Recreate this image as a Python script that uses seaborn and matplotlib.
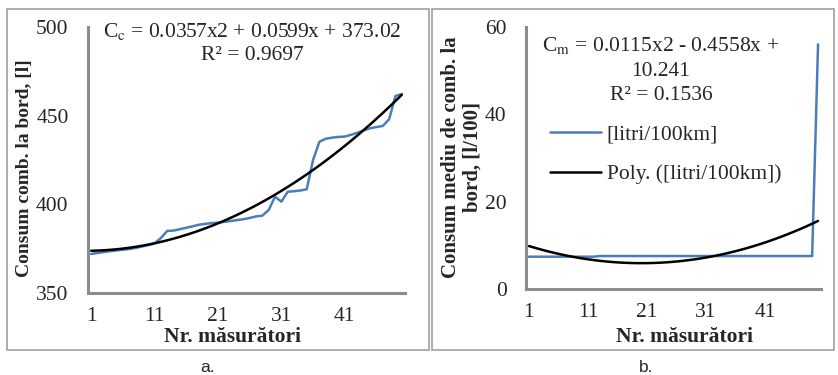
import numpy as np
import pandas as pd
import matplotlib
matplotlib.use("Agg")
import matplotlib.pyplot as plt
from matplotlib.patches import Rectangle
import seaborn as sns

# ---- data ----
masuratori = list(range(1, 51))
consum_bord = [372.0, 372.6, 373.1, 373.6, 374.0, 374.4, 374.8, 375.4, 376.2, 377.0,
               378.0, 381.0, 385.0, 385.2, 386.0, 386.8, 387.6, 388.5, 389.0, 389.4,
               389.7, 390.1, 390.6, 391.1, 391.6, 392.3, 393.2, 393.6, 396.8, 404.3,
               401.5, 407.1, 407.4, 407.8, 408.5, 425.0, 435.3, 437.0, 437.6, 438.0,
               438.2, 439.2, 440.4, 441.7, 442.9, 443.6, 444.2, 448.0, 461.1, 462.2]
consum_mediu = [7.4] * 12 + [7.55] * 37 + [56.0]

x_ticks = [1, 11, 21, 31, 41]
y_ticks_a = [350, 400, 450, 500]
y_ticks_b = [0, 20, 40, 60]

eq_a = ["C$_\\mathrm{c}$ = 0.0357x2 + 0.0599x + 373.02", "R² = 0.9697"]
eq_b = ["C$_\\mathrm{m}$ = 0.0115x2 - 0.4558x +", "10.241", "R² = 0.1536"]
serie_name = "[litri/100km]"
trend_name = "Poly. ([litri/100km])"

df_a = pd.DataFrame({"nr": masuratori, "val": consum_bord})
df_b = pd.DataFrame({"nr": masuratori, "val": consum_mediu})

BLUE = "#4a7ebb"
GRAY = "#8c8c8c"
W, H = 838, 375
FS = 15.5

sns.set_style("white")
plt.rcParams["font.family"] = ["Liberation Serif", "DejaVu Serif"]
plt.rcParams["mathtext.fontset"] = "stix"

fig = plt.figure(figsize=(W / 100, H / 100), dpi=100)


def fx(px):
    return px / W


def fy(py):
    return 1 - py / H


def make_axes(l, r, t, b):
    return fig.add_axes([fx(l), fy(b), fx(r - l), (b - t) / H])


def style(ax, yticks):
    for s in ["top", "right"]:
        ax.spines[s].set_visible(False)
    for s in ["left", "bottom"]:
        ax.spines[s].set_color(GRAY)
        ax.spines[s].set_linewidth(2.2)
    ax.set_xlim(0.5, 50.5)
    ax.set_xticks(x_ticks)
    ax.set_yticks(yticks)
    ax.set_ylim(yticks[0], yticks[-1])
    ax.tick_params(axis="both", length=0, labelsize=FS)
    ax.tick_params(axis="y", pad=14)
    ax.tick_params(axis="x", pad=10)
    ax.set_xlabel("")
    ax.set_ylabel("")


# panel a
ax1 = make_axes(88, 405, 27, 293)
sns.lineplot(data=df_a, x="nr", y="val", ax=ax1, color=BLUE, lw=1.8)
sns.regplot(data=df_a, x="nr", y="val", ax=ax1, order=2, scatter=False, ci=None,
            truncate=True, line_kws={"color": "black", "lw": 1.8})
style(ax1, y_ticks_a)

# panel b
ax2 = make_axes(526, 821, 27, 289)
sns.lineplot(data=df_b, x="nr", y="val", ax=ax2, color=BLUE, lw=1.8, label=serie_name)
sns.regplot(data=df_b, x="nr", y="val", ax=ax2, order=2, scatter=False, ci=None,
            truncate=True, line_kws={"color": "black", "lw": 1.8}, label=trend_name)
style(ax2, y_ticks_b)
ax2.legend(loc="upper left", bbox_to_anchor=(fx(539), fy(114)),
           bbox_transform=fig.transFigure, frameon=False, fontsize=FS,
           borderpad=0, handlelength=2.4, handletextpad=0.25, labelspacing=0.9)

# texts
fig.text(fx(252), fy(32), eq_a[0], ha="center", va="center", fontsize=FS)
fig.text(fx(252), fy(56), eq_a[1], ha="center", va="center", fontsize=FS)
for line, yy in zip(eq_b, [46, 71, 96]):
    fig.text(fx(661), fy(yy), line, ha="center", va="center", fontsize=FS)

fig.text(fx(25), fy(168), "Consum comb. la bord, [l]", rotation=90,
         ha="center", va="center", fontsize=14, fontweight="bold")
fig.text(fx(462), fy(157), "Consum mediu de comb. la\nbord, [l/100]", rotation=90,
         ha="center", va="center", fontsize=15, fontweight="bold",
         multialignment="center", linespacing=1.1)
fig.text(fx(232), fy(337), "Nr. măsurători", ha="center", va="center",
         fontsize=FS, fontweight="bold")
fig.text(fx(684), fy(337), "Nr. măsurători", ha="center", va="center",
         fontsize=FS, fontweight="bold")

fig.text(fx(208), fy(367), "a.", ha="center", va="center", fontsize=12.5,
         family=["Liberation Sans", "DejaVu Sans"])
fig.text(fx(646), fy(367), "b.", ha="center", va="center", fontsize=12.5,
         family=["Liberation Sans", "DejaVu Sans"])

# frames around the two panels
for (l, r) in [(7, 429), (432, 834)]:
    fig.patches.append(Rectangle((fx(l), fy(350)), fx(r - l), (350 - 9) / H,
                                 transform=fig.transFigure, fill=False,
                                 edgecolor="#a0a0a0", lw=1.2))

fig.savefig("out.png", dpi=100)
